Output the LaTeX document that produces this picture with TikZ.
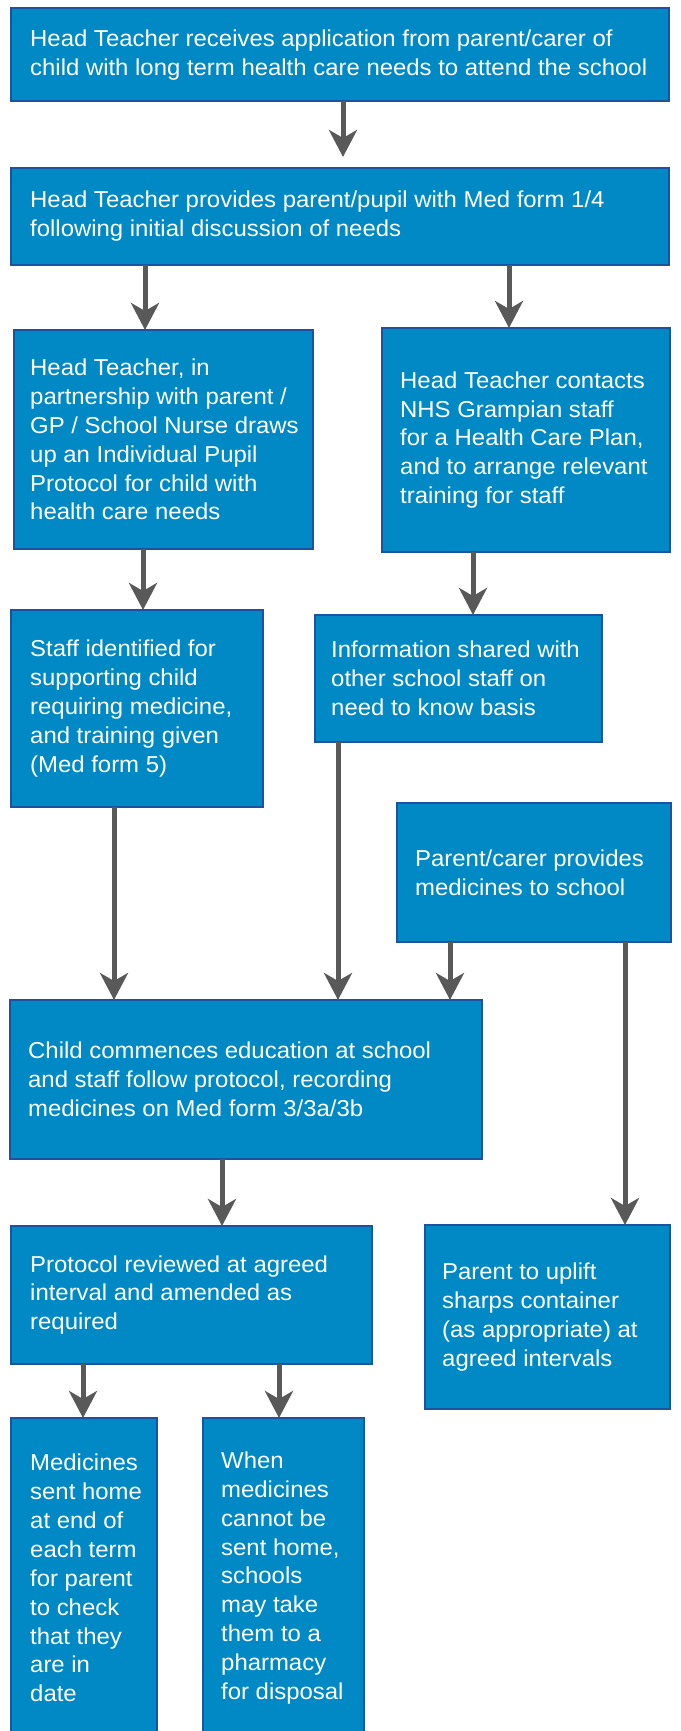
\documentclass[tikz,border=0pt]{standalone}
\usepackage{fontspec}
\setmainfont[FakeStretch=1.04]{Liberation Sans}
\usetikzlibrary{arrows.meta}
\definecolor{boxfill}{RGB}{0,137,196}
\definecolor{boxline}{RGB}{28,82,160}
\definecolor{arrgray}{RGB}{89,89,89}
\begin{document}
\begin{tikzpicture}[x=1pt,y=-1pt,
		box/.style={draw=boxline,line width=1.3pt,fill=boxfill,anchor=north west,inner sep=0pt,outer sep=0pt},
		txt/.style={anchor=west,align=left,text=white,inner sep=0pt,font=\fontsize{23pt}{28.9pt}\selectfont},
		arr/.style={draw=arrgray,line width=5pt,-{Stealth[length=27pt,width=28pt,inset=8pt]}}]
		\useasboundingbox (0,0) rectangle (680,1731);
		\clip (0,0) rectangle (680,1731);
		\node[box,minimum width=658pt,minimum height=93pt] (b1) at (11,8) {};
		\node[txt] (t1) at ([xshift=19pt,yshift=-1pt]b1.west) {Head Teacher receives application from parent/carer of\\child with long term health care needs to attend the school};
		\node[box,minimum width=658pt,minimum height=97pt] (b2) at (11,168) {};
		\node[txt] (t2) at ([xshift=19pt]b2.west) {Head Teacher provides parent/pupil with Med form 1/4\\following initial discussion of needs};
		\node[box,minimum width=299pt,minimum height=219pt] (b3) at (14,330) {};
		\node[txt] (t3) at ([xshift=16pt]b3.west) {Head Teacher, in\\partnership with parent /\\GP / School Nurse draws\\up an Individual Pupil\\Protocol for child with\\health care needs};
		\node[box,minimum width=288pt,minimum height=224pt] (b4) at (382,328) {};
		\node[txt] (t4) at ([xshift=18pt]b4.west) {Head Teacher contacts\\NHS Grampian staff\\for a Health Care Plan,\\and to arrange relevant\\training for staff};
		\node[box,minimum width=252pt,minimum height=197pt] (b5) at (11,610) {};
		\node[txt] (t5) at ([xshift=19pt]b5.west) {Staff identified for\\supporting child\\requiring medicine,\\and training given\\(Med form 5)};
		\node[box,minimum width=287pt,minimum height=127pt] (b6) at (315,615) {};
		\node[txt] (t6) at ([xshift=16pt]b6.west) {Information shared with\\other school staff on\\need to know basis};
		\node[box,minimum width=274pt,minimum height=139pt] (b7) at (397,803) {};
		\node[txt] (t7) at ([xshift=18pt]b7.west) {Parent/carer provides\\medicines to school};
		\node[box,minimum width=472pt,minimum height=159pt] (b8) at (10,1000) {};
		\node[txt] (t8) at ([xshift=18pt]b8.west) {Child commences education at school\\and staff follow protocol, recording\\medicines on Med form 3/3a/3b};
		\node[box,minimum width=245pt,minimum height=184pt] (b9) at (425,1225) {};
		\node[txt] (t9) at ([xshift=17pt]b9.west) {Parent to uplift\\sharps container\\(as appropriate) at\\agreed intervals};
		\node[box,minimum width=361pt,minimum height=138pt] (b10) at (11,1226) {};
		\node[txt] (t10) at ([xshift=19pt]b10.west) {Protocol reviewed at agreed\\interval and amended as\\required};
		\node[box,minimum width=146pt,minimum height=320pt] (b11) at (11,1418) {};
		\node[txt] (t11) at ([xshift=19pt]b11.west) {Medicines\\sent home\\at end of\\each term\\for parent\\to check\\that they\\are in\\date};
		\node[box,minimum width=161pt,minimum height=320pt] (b12) at (203,1418) {};
		\node[txt] (t12) at ([xshift=18pt]b12.west) {When\\medicines\\cannot be\\sent home,\\schools\\may take\\them to a\\pharmacy\\for disposal};
		\draw[arr,shorten >=11pt] ([xshift=332pt]b1.south west) -- ([xshift=332pt]b2.north west);
		\draw[arr] ([xshift=134pt]b2.south west) -- ([xshift=131pt]b3.north west);
		\draw[arr] ([xshift=498pt]b2.south west) -- ([xshift=127pt]b4.north west);
		\draw[arr] ([xshift=129pt]b3.south west) -- ([xshift=132pt]b5.north west);
		\draw[arr] ([xshift=91pt]b4.south west) -- ([xshift=158pt]b6.north west);
		\draw[arr] ([xshift=103pt]b5.south west) -- ([xshift=104pt]b8.north west);
		\draw[arr] ([xshift=23pt]b6.south west) -- ([xshift=328pt]b8.north west);
		\draw[arr] ([xshift=53pt]b7.south west) -- ([xshift=440pt]b8.north west);
		\draw[arr] ([xshift=228pt]b7.south west) -- ([xshift=200pt]b9.north west);
		\draw[arr] ([xshift=212pt]b8.south west) -- ([xshift=211pt]b10.north west);
		\draw[arr] ([xshift=72pt]b10.south west) -- ([xshift=72pt]b11.north west);
		\draw[arr] ([xshift=268pt]b10.south west) -- ([xshift=76pt]b12.north west);
\end{tikzpicture}
\end{document}
